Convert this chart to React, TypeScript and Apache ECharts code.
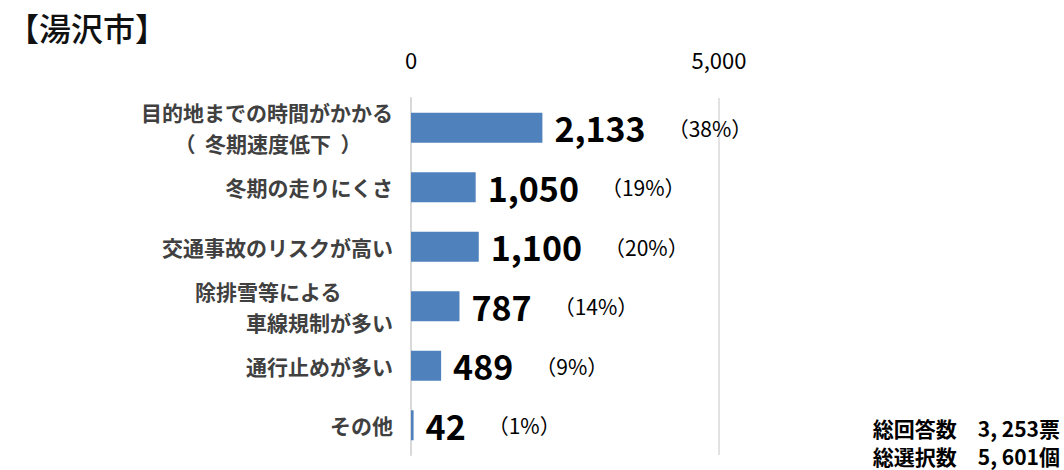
import React, { useEffect, useRef } from "react";
import * as echarts from "echarts";

const categories = [
  "目的地までの時間がかかる\n（  冬期速度低下  ）　　",
  "冬期の走りにくさ",
  "交通事故のリスクが高い",
  "除排雪等による　　  \n車線規制が多い",
  "通行止めが多い",
  "その他",
];
const values = [2133, 1050, 1100, 787, 489, 42];
const percents = ["38%", "19%", "20%", "14%", "9%", "1%"];
const xTicks = [0, 5000];
const titleText = "【湯沢市】";
const summaryLines = ["総回答数　3, 253票", "総選択数　5, 601個"];

const FONT = "'Noto Sans CJK JP', 'Noto Sans', sans-serif";

export default function App() {
  const ref = useRef<HTMLDivElement>(null);
  useEffect(() => {
    if (!ref.current) return;
    const chart = echarts.init(ref.current, undefined, { renderer: "svg" });
    chart.setOption({
      animation: false,
      backgroundColor: "#ffffff",
      textStyle: { fontFamily: FONT },
      title: {
        text: titleText,
        left: 2,
        top: 6,
        textStyle: { fontFamily: FONT, fontSize: 32, fontWeight: 500, color: "#111" },
      },
      graphic: summaryLines.map((t, i) => ({
        type: "text",
        right: 4,
        top: 417 + i * 28,
        style: {
          text: t,
          font: `bold 21px ${FONT}`,
          fill: "#000",
          textAlign: "right",
        },
      })),
      grid: { left: 411, right: 345, top: 98, bottom: 15, containLabel: false },
      xAxis: {
        type: "value",
        position: "top",
        min: xTicks[0],
        max: xTicks[xTicks.length - 1],
        interval: 5000,
        axisLine: { show: false },
        axisTick: { show: false },
        axisLabel: {
          margin: 28,
          fontSize: 22,
          color: "#000",
          fontFamily: FONT,
          formatter: (v: number) => v.toLocaleString("en-US"),
        },
        splitLine: { show: true, lineStyle: { color: "#d9d9d9", width: 1.5 } },
      },
      yAxis: {
        type: "category",
        data: categories,
        inverse: true,
        axisLine: { show: true, lineStyle: { color: "#d9d9d9", width: 2 } },
        axisTick: { show: false },
        axisLabel: {
          margin: 18,
          fontSize: 21,
          fontWeight: "bold",
          color: "#404040",
          lineHeight: 31,
          fontFamily: FONT,
          align: "right",
        },
      },
      series: [
        {
          type: "bar",
          data: values,
          barWidth: 30,
          itemStyle: { color: "#4f81bd" },
          label: {
            show: true,
            position: "right",
            distance: 12,
            formatter: (p: any) =>
              `{v|${values[p.dataIndex].toLocaleString("en-US")}}{g|}{p|（${percents[p.dataIndex]}）}`,
            rich: {
              v: { fontSize: 34, fontWeight: "bold", color: "#000", fontFamily: FONT },
              g: { width: 22 },
              p: { fontSize: 21, color: "#000", fontFamily: FONT },
            },
          },
        },
      ],
    });
    return () => chart.dispose();
  }, []);
  return <div ref={ref} style={{ width: 1064, height: 470, position: "absolute", left: 0, top: 0 }} />;
}
